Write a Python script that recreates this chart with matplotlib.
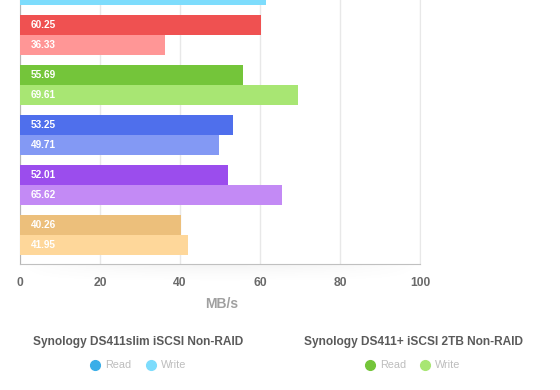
import matplotlib
matplotlib.use('Agg')
import matplotlib.pyplot as plt
from matplotlib.lines import Line2D
import numpy as np

plt.rcParams['font.family'] = ['Liberation Sans', 'DejaVu Sans']

# ---- data ----
read_vals = [62.0, 60.25, 55.69, 53.25, 52.01, 40.26]
write_vals = [61.5, 36.33, 69.61, 49.71, 65.62, 41.95]
read_colors = ['#3aaee8', '#ef5151', '#74c53a', '#4f6fec', '#9b4ded', '#ecbf7b']
write_colors = ['#7ddcfc', '#ff9696', '#a8e673', '#8399f4', '#c38af5', '#fed79a']
legend_titles = ['Synology DS411slim iSCSI Non-RAID', 'Synology DS411+ iSCSI 2TB Non-RAID']
legend_series = [0, 2]          # which bar group each legend block describes
legend_items = ['Read', 'Write']
xticks = [0, 20, 40, 60, 80, 100]
xlabel = 'MB/s'

W, H = 560, 390
fig = plt.figure(figsize=(W / 100, H / 100), dpi=100)
fig.patch.set_facecolor('white')

# soft shadow under the plot area
sh = fig.add_axes([20 / W, 1 - 285 / H, 400 / W, 21 / H])
yy = np.linspace(0, 1, 50)[:, None]
xx = np.linspace(-1, 1, 200)[None, :]
alpha = (1 - yy) ** 2 * 0.10 * (1 - xx ** 2)
img = np.zeros((50, 200, 4))
img[..., :3] = 0.5
img[..., 3] = alpha
sh.imshow(img, aspect='auto', origin='upper', extent=[0, 1, 0, 1])
sh.axis('off')

ax = fig.add_axes([20 / W, 1 - 264 / H, 400 / W, 264 / H])
n = len(read_vals)
pos = np.arange(n)
h = 0.4
ylo, yhi = 5.58, 0.3
ax.barh(pos - h / 2, read_vals, height=h, color=read_colors, zorder=3)
ax.barh(pos + h / 2, write_vals, height=h, color=write_colors, zorder=3)

for i in range(n):
    for v, y in ((read_vals[i], pos[i] - h / 2), (write_vals[i], pos[i] + h / 2)):
        if y - 0.1 < yhi:
            continue  # label lies above the visible area
        ax.text(2.75, y, f'{v:.2f}', va='center', ha='left', color='white',
                fontsize=7.2, fontweight='bold', zorder=4)

ax.set_xlim(0, 100)
ax.set_ylim(ylo, yhi)
ax.set_xticks(xticks)
ax.set_yticks([])
ax.grid(axis='x', color='#e8e8e8', lw=1, zorder=0)
ax.tick_params(axis='x', length=0, pad=9, labelsize=8.7, labelcolor='#6a6a6a')
for lab in ax.get_xticklabels():
    lab.set_fontweight('bold')
ax.spines['top'].set_visible(False)
ax.spines['right'].set_color('#e8e8e8')
ax.spines['left'].set_color('#b5b5b5')
ax.spines['bottom'].set_color('#c0c0c0')

fig.text(222 / W, 1 - 304 / H, xlabel, ha='center', va='center', fontsize=10,
         fontweight='bold', color='#a0a0a0')

# legends
title_x = [138.5, 413]
marker_x = [[95, 151], [370, 425]]
for k in range(2):
    fig.text(title_x[k] / W, 1 - 342 / H, legend_titles[k], ha='center', va='center',
             fontsize=8.6, fontweight='bold', color='#5a5a5a')
    s = legend_series[k]
    cols = [read_colors[s], write_colors[s]]
    for j in range(2):
        mx = marker_x[k][j]
        fig.add_artist(Line2D([mx / W], [1 - 365 / H], marker='o', markersize=7,
                              color=cols[j], transform=fig.transFigure))
        fig.text((mx + 10) / W, 1 - 365 / H, legend_items[j], ha='left', va='center',
                 fontsize=7.8, color='#bdbdbd')

fig.savefig('out.png', dpi=100)
